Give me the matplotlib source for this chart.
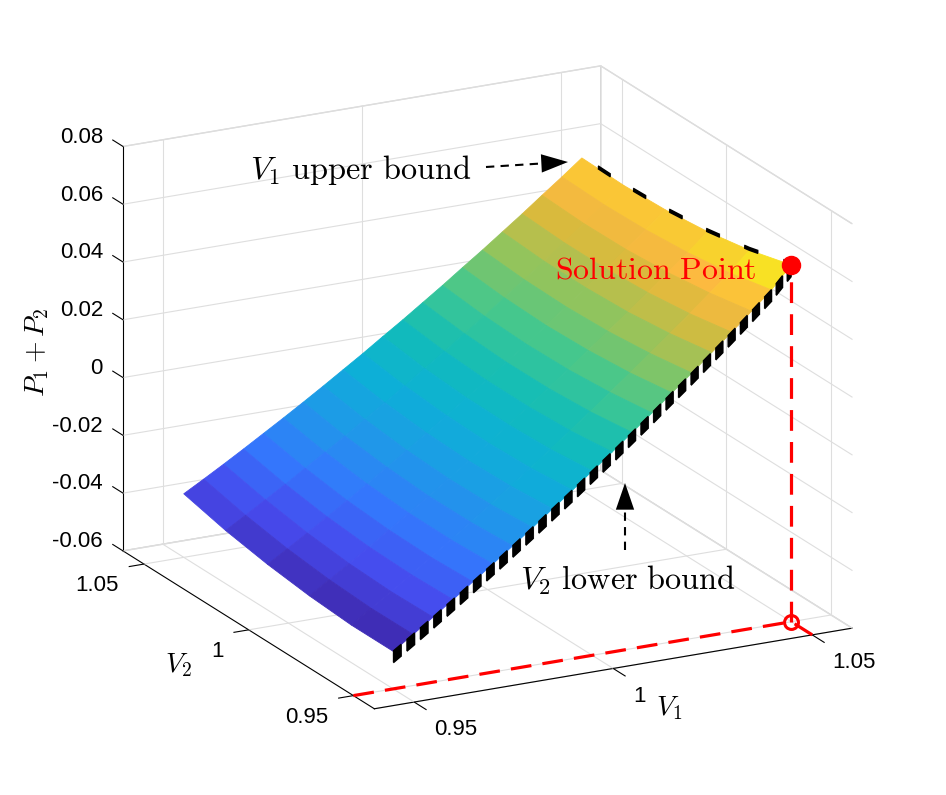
import numpy as np
import matplotlib.pyplot as plt
from matplotlib.colors import LinearSegmentedColormap, Normalize
from matplotlib.patches import FancyArrowPatch
from matplotlib.lines import Line2D
from mpl_toolkits.mplot3d import proj3d

plt.rcParams['mathtext.fontset'] = 'cm'
plt.rcParams['font.family'] = ['Liberation Sans', 'DejaVu Sans']

# ---- data ----
v1 = [0.950, 0.955, 0.960, 0.965, 0.970, 0.975, 0.980, 0.985, 0.990, 0.995, 1.000,
      1.005, 1.010, 1.015, 1.020, 1.025, 1.030, 1.035, 1.040, 1.045, 1.050]
v2 = [0.95, 0.97, 0.99, 1.01, 1.03, 1.05]

# P1 + P2, one row per V1 value, columns follow v2
p_sum = [
    [-0.0470, -0.0470, -0.0460, -0.0442, -0.0416, -0.0380],
    [-0.0423, -0.0424, -0.0416, -0.0400, -0.0375, -0.0341],
    [-0.0375, -0.0378, -0.0372, -0.0357, -0.0333, -0.0301],
    [-0.0326, -0.0330, -0.0326, -0.0313, -0.0291, -0.0260],
    [-0.0276, -0.0282, -0.0279, -0.0268, -0.0247, -0.0218],
    [-0.0226, -0.0233, -0.0232, -0.0222, -0.0203, -0.0176],
    [-0.0175, -0.0184, -0.0185, -0.0176, -0.0159, -0.0133],
    [-0.0123, -0.0134, -0.0136, -0.0129, -0.0113, -0.0089],
    [-0.0070, -0.0082, -0.0086, -0.0081, -0.0067, -0.0044],
    [-0.0017, -0.0031, -0.0036, -0.0032, -0.0020, 0.0001],
    [0.0038, 0.0022, 0.0016, 0.0018, 0.0028, 0.0048],
    [0.0092, 0.0075, 0.0067, 0.0067, 0.0076, 0.0094],
    [0.0148, 0.0129, 0.0119, 0.0118, 0.0126, 0.0142],
    [0.0204, 0.0184, 0.0172, 0.0169, 0.0175, 0.0190],
    [0.0262, 0.0240, 0.0227, 0.0222, 0.0227, 0.0240],
    [0.0319, 0.0296, 0.0281, 0.0275, 0.0278, 0.0289],
    [0.0378, 0.0353, 0.0336, 0.0329, 0.0330, 0.0340],
    [0.0437, 0.0410, 0.0392, 0.0383, 0.0383, 0.0391],
    [0.0498, 0.0470, 0.0450, 0.0439, 0.0437, 0.0444],
    [0.0560, 0.0528, 0.0507, 0.0495, 0.0491, 0.0496],
    [0.0635, 0.0595, 0.0568, 0.0552, 0.0546, 0.0550],
]

sol_v1 = 1.05
sol_v2 = 0.95
sol_p = 0.0635

v1_lim = [0.94, 1.06]
v2_lim = [0.94, 1.06]
p_lim = [-0.06, 0.08]
v_ticks = [0.95, 1.0, 1.05]
v_ticklabels = ['0.95', '1', '1.05']
p_ticks = [-0.06, -0.04, -0.02, 0.0, 0.02, 0.04, 0.06, 0.08]
p_ticklabels = ['-0.06', '-0.04', '-0.02', '0', '0.02', '0.04', '0.06', '0.08']

# MATLAB parula, approximated
parula = LinearSegmentedColormap.from_list('parula', [
    (0.00, (0.242, 0.150, 0.660)),
    (0.10, (0.275, 0.290, 0.930)),
    (0.20, (0.200, 0.470, 0.990)),
    (0.30, (0.120, 0.600, 0.910)),
    (0.40, (0.050, 0.690, 0.840)),
    (0.50, (0.070, 0.740, 0.720)),
    (0.60, (0.260, 0.780, 0.560)),
    (0.70, (0.560, 0.770, 0.370)),
    (0.80, (0.850, 0.730, 0.240)),
    (0.87, (0.990, 0.730, 0.250)),
    (0.93, (0.970, 0.830, 0.170)),
    (1.00, (0.976, 0.984, 0.080)),
])

V1, V2 = np.meshgrid(v1, v2, indexing='ij')
P = np.array(p_sum)
# colour of each patch from the mean of its four corners
P_mid = np.pad((P[:-1, :-1] + P[1:, :-1] + P[:-1, 1:] + P[1:, 1:]) / 4,
               ((0, 1), (0, 1)), mode='edge')
colors = parula(Normalize(P.min(), P.max())(P_mid))

fig = plt.figure(figsize=(9.46, 7.95), dpi=100)
ax = fig.add_axes([0.004, -0.0007, 1, 1], projection='3d', computed_zorder=False)
ax.set_proj_type('ortho')
ax.view_init(elev=19, azim=-117.4)
ax.set_box_aspect((1, 1.015, 0.795), zoom=1.072)

ax.set_xlim(v1_lim)
ax.set_ylim(v2_lim)
ax.set_zlim(p_lim)
ax.set_xticks([])
ax.set_yticks([])
ax.set_zticks([])
for axis in (ax.xaxis, ax.yaxis, ax.zaxis):
    axis.set_pane_color((1, 1, 1, 1))
    axis.pane.set_edgecolor('0.85')
    axis.line.set_color('k')
    axis.line.set_linewidth(0.8)

# grid on the two back walls and the floor, MATLAB style
g = dict(color='0.87', lw=0.8, zorder=0.5)
x0, x1 = v1_lim
y0, y1 = v2_lim
z0, z1 = p_lim
for t in p_ticks:
    ax.plot([x0, x1], [y1, y1], [t, t], **g)
    ax.plot([x1, x1], [y0, y1], [t, t], **g)
for t in v_ticks:
    ax.plot([t, t], [y1, y1], [z0, z1], **g)
    ax.plot([t, t], [y0, y1], [z0, z0], **g)
    ax.plot([x1, x1], [t, t], [z0, z1], **g)
    ax.plot([x0, x1], [t, t], [z0, z0], **g)

# tick labels go through the axes' own 3-D projection, then drawn as 2-D text
M = ax.get_proj()


def label_at(x, y, z, s, ha):
    px, py, _ = proj3d.proj_transform(x, y, z, M)
    ax.text2D(px, py, s, transform=ax.transData, fontsize=16, ha=ha, va='center')


# tick marks and tick labels, offset the way MATLAB draws them
tk = dict(color='k', lw=0.8, zorder=0.6)
for t, lab in zip(v_ticks, v_ticklabels):
    ax.plot([t, t], [y0, y0 - 0.0057], [z0, z0], **tk)
    label_at(t, y0 - 0.0096, z0 - 0.0052, lab, 'left')
    ax.plot([x0, x0 - 0.0037], [t, t], [z0, z0], **tk)
    label_at(x0 - 0.00625, t, z0 - 0.0061, lab, 'right')
for t, lab in zip(p_ticks, p_ticklabels):
    ax.plot([x0, x0], [y1, y1 + 0.0049], [t, t], **tk)
    label_at(x0, y1 + 0.0096, t - 0.0012, lab, 'right')

ax.plot_surface(V1, V2, P, facecolors=colors, rstride=1, cstride=1,
                linewidth=0.6, antialiased=True, shade=False, zorder=1)

# V2 lower bound edge: stacked dashed lines give the black striped band
for k in range(14):
    ax.plot(V1[:, 0], V2[:, 0], P[:, 0] - 0.0003 * k, color='k', lw=1.3,
            ls=(0, (6, 3.8)), zorder=3)
# V1 upper bound edge
for k in range(4):
    ax.plot(V1[-1, :], V2[-1, :], P[-1, :] + 0.0003 * k, color='k', lw=1.2,
            ls=(4, (9, 16)), zorder=3)

# solution point and its projection
red_ls = (0, (6.5, 3.5))
ax.plot([x0, sol_v1], [sol_v2, sol_v2], [z0, z0], color='r', ls=red_ls, lw=2.3, zorder=4)
ax.plot([sol_v1, sol_v1], [y0, sol_v2], [z0, z0], color='r', ls=red_ls, lw=2.3, zorder=4)
ax.plot([sol_v1, sol_v1], [sol_v2, sol_v2], [z0, sol_p], color='r', ls=red_ls, lw=2.3, zorder=4)
ax.plot([sol_v1], [sol_v2], [z0], 'o', ms=10, mfc='none', mec='r', mew=2.2, zorder=5)
ax.plot([sol_v1], [sol_v2], [sol_p], 'o', ms=13, mfc='r', mec='r', zorder=5)

# axis labels placed where MATLAB put them
fig.text(37 / 946, 1 - 352 / 795, r'$P_1 + P_2$', fontsize=20, rotation=90,
         ha='center', va='center')
fig.text(178 / 946, 1 - 665 / 795, r'$V_2$', fontsize=20, ha='center', va='center')
fig.text(669 / 946, 1 - 708 / 795, r'$V_1$', fontsize=20, ha='center', va='center')

# annotations (figure level, like MATLAB annotation arrows)
fig.text(250 / 946, 1 - 170 / 795, r'$V_1\ \mathrm{upper\ bound}$', fontsize=23.3,
         va='center', ha='left')
fig.text(520 / 946, 1 - 580 / 795, r'$V_2\ \mathrm{lower\ bound}$', fontsize=23.3,
         va='center', ha='left')
fig.text(555 / 946, 1 - 271 / 795, r'$\mathrm{Solution\ Point}$', fontsize=23,
         va='center', ha='left', color='r')


def dashed_arrow(xa, ya, xb, yb, hx, hy):
    fx = lambda x: x / 946
    fy = lambda y: 1 - y / 795
    fig.add_artist(Line2D([fx(xa), fx(hx)], [fy(ya), fy(hy)], color='k', lw=1.5,
                          ls=(0, (4, 3)), transform=fig.transFigure))
    fig.add_artist(FancyArrowPatch((fx(hx), fy(hy)), (fx(xb), fy(yb)),
                                   transform=fig.transFigure, color='k', lw=0,
                                   arrowstyle='-|>,head_length=1.6,head_width=0.55',
                                   mutation_scale=12, shrinkA=0, shrinkB=0))


dashed_arrow(486, 167, 568, 162, 549, 163)
dashed_arrow(625, 550, 625, 483, 625, 502)

fig.savefig('out.png', dpi=100)
